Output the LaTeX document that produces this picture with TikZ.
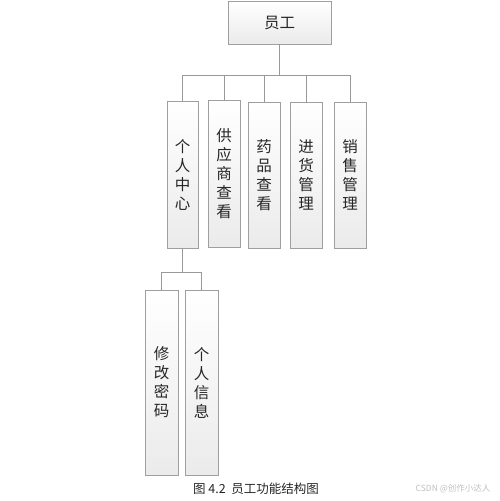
\documentclass[tikz,border=0pt]{standalone}
\usepackage{fontspec}
\newfontfamily\cjk{Noto Sans CJK SC}
\usetikzlibrary{shadows}

\begin{document}
\begin{tikzpicture}[x=1pt,y=-1pt,
  box/.style={draw=gray!75, line width=0.8pt, inner sep=0pt,
    top color=white, bottom color=gray!16,
    drop shadow={opacity=0.25, shadow xshift=1pt, shadow yshift=-1pt},
    font=\cjk\fontsize{15.5}{19}\selectfont, text=black!85, align=center},
  link/.style={draw=gray!80, line width=0.9pt}]
  \useasboundingbox (0,0) rectangle (499,501);

  % top
  \node [box, minimum width=103pt, minimum height=43pt] (yg) at (279.5,22.5) {员工};

  % second level
  \node [box, minimum width=31pt, minimum height=147pt] (grzx) at (182.5,174.5) {个\\人\\中\\心};
  \node [box, minimum width=32pt, minimum height=147pt] (gys) at (224,173.5) {供\\应\\商\\查\\看};
  \node [box, minimum width=32pt, minimum height=146pt] (ypck) at (264,175) {药\\品\\查\\看};
  \node [box, minimum width=32pt, minimum height=146pt] (jhgl) at (306,175) {进\\货\\管\\理};
  \node [box, minimum width=32pt, minimum height=146pt] (xsgl) at (350,175) {销\\售\\管\\理};

  % third level
  \node [box, minimum width=33pt, minimum height=185pt] (xgmm) at (161.5,382.5) {修\\改\\密\\码};
  \node [box, minimum width=33pt, minimum height=185pt] (grxx) at (201.5,382.5) {个\\人\\信\\息};

  \coordinate (bar1) at (279.5,75);
  \coordinate (bar2) at (182.5,272);

  \draw [link] (yg.south) -- (bar1);
  \draw [link] (grzx.north) |- (bar1);
  \draw [link] (xsgl.north) |- (bar1);
  \draw [link] (gys.north) -- (gys.north |- bar1);
  \draw [link] (ypck.north) -- (ypck.north |- bar1);
  \draw [link] (jhgl.north) -- (jhgl.north |- bar1);

  \draw [link] (grzx.south) -- (bar2);
  \draw [link] (xgmm.north) |- (bar2);
  \draw [link] (grxx.north) |- (bar2);

  \node [font=\cjk\fontsize{12.5}{14}\selectfont, text=black!85] (cap) at (256,489) {图 4.2\ \ 员工功能结构图};
  \node [font=\cjk\fontsize{8.5}{10}\selectfont, text=gray!50] (mark) at (453,489) {CSDN @创作小达人};
\end{tikzpicture}
\end{document}
